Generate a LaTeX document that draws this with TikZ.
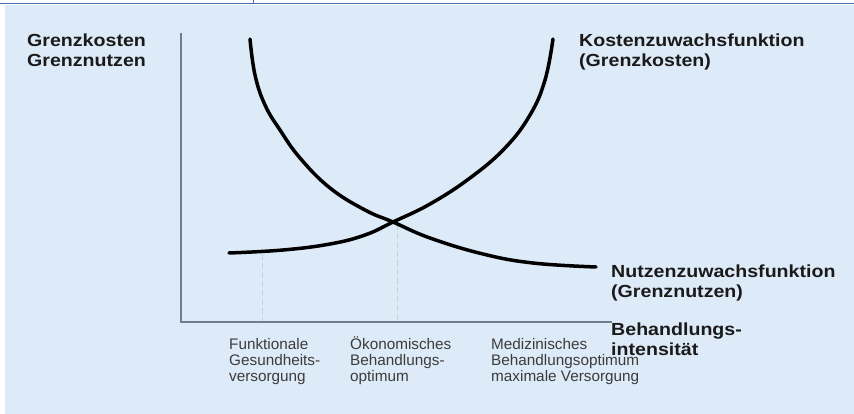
\documentclass[tikz,border=0pt]{standalone}
\usepackage{fontspec}
\setmainfont{Liberation Sans}
\newfontfamily\lab[FakeStretch=1.12]{Liberation Sans}
\definecolor{bgblue}{HTML}{DDEAF7}
\definecolor{topline}{HTML}{4A6FB5}
\definecolor{axisgrey}{HTML}{6E7E8A}
\definecolor{guide}{HTML}{C5D2DE}
\definecolor{txt}{HTML}{1A1A1A}
\tikzset{
  axisline/.style={draw=axisgrey, line width=2pt},
  curve/.style={draw=black, line width=3.5pt, line cap=round},
  guideline/.style={draw=guide, line width=1pt, dashed, dash pattern=on 6pt off 3pt},
  boldlabel/.style={anchor=base west, align=left, inner sep=0pt, text=txt,
    font=\lab\bfseries\fontsize{17.5pt}{20pt}\selectfont},
  smalllabel/.style={anchor=base west, align=left, inner sep=0pt, text=txt!85,
    font=\fontsize{15.3pt}{16.3pt}\selectfont}
}
\begin{document}
\begin{tikzpicture}[x=1pt,y=-1pt]
\useasboundingbox (0,0) rectangle (854,414);
\fill[white] (0,0) rectangle (854,414);
\fill[bgblue] (5,5) rectangle (854,414);
\draw[topline, line width=1.5pt] (0,3.5) -- (854,3.5);
\draw[topline, line width=1pt] (253,0) -- (253,4);
% axes
\coordinate (ytop) at (181,33);
\coordinate (orig) at (181,322);
\coordinate (xend) at (612,322);
\draw[axisline] (ytop) -- (orig) -- (xend);
% guides
\coordinate (g1t) at (262,254);
\coordinate (g1b) at (262,321);
\coordinate (g2t) at (397,224);
\coordinate (g2b) at (397,321);
\draw[guideline] (g1t) -- (g1b);
\draw[guideline] (g2t) -- (g2b);
% decreasing curve (Grenznutzen)
\draw[curve] plot[smooth, tension=0.7] coordinates {(250,39) (255,75) (265,105) (280,130) (300,158) (330,188) (365,210) (393,222) (430,238) (483,254) (533,263) (596,267)};
% increasing curve (Grenzkosten)
\draw[curve] plot[smooth, tension=0.7] coordinates {(229,253) (283,250) (330,244) (365,235) (393,222) (430,204) (470,178) (505,148) (530,115) (545,80) (553,39)};
% labels (base anchor = baseline of last line)
\node[boldlabel] (ylab) at (27,67) {Grenzkosten\\Grenznutzen};
\node[boldlabel] (klab) at (579,67) {Kostenzuwachsfunktion\\(Grenzkosten)};
\node[boldlabel] (nlab) at (611,297) {Nutzenzuwachsfunktion\\(Grenznutzen)};
\node[boldlabel] (xlab) at (611,355) {Behandlungs-\\intensität};
\node[smalllabel] (l1) at (229,381.6) {Funktionale\\Gesundheits-\\versorgung};
\node[smalllabel] (l2) at (350,381.6) {Ökonomisches\\Behandlungs-\\optimum};
\node[smalllabel] (l3) at (491,381.6) {Medizinisches\\Behandlungsoptimum\\maximale Versorgung};
\end{tikzpicture}
\end{document}
